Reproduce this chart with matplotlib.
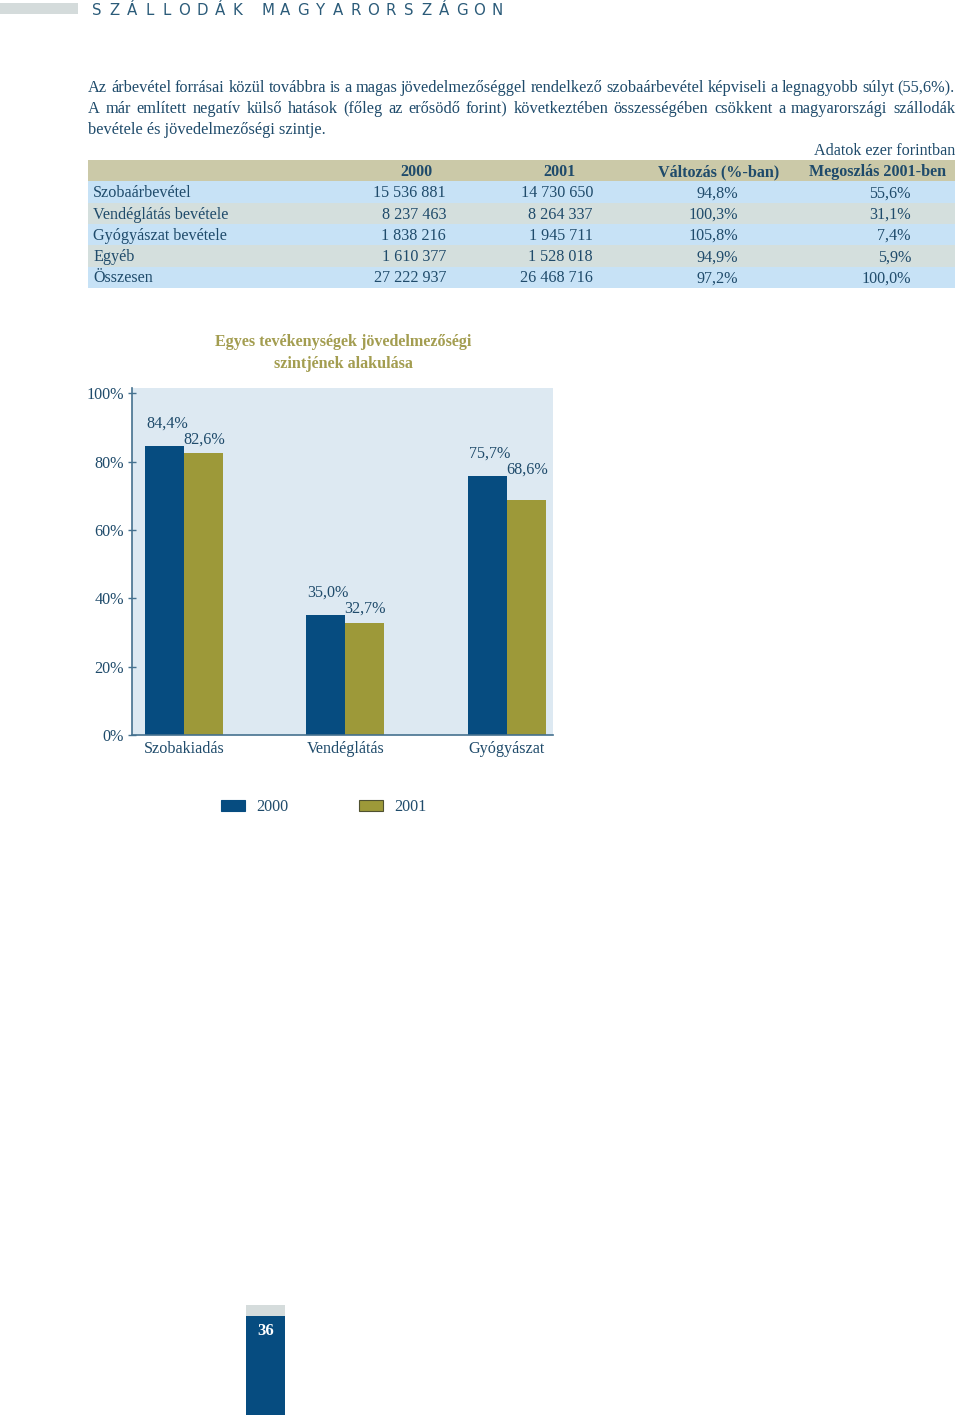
import matplotlib
matplotlib.use("Agg")
import matplotlib.pyplot as plt
from matplotlib.patches import Rectangle
import numpy as np

# ---------------- data ----------------
header_title = "SZÁLLODÁK MAGYARORSZÁGON"
paragraph_lines = [
    "Az árbevétel forrásai közül továbbra is a magas jövedelmezőséggel rendelkező szobaárbevétel képviseli a legnagyobb súlyt (55,6%).",
    "A már említett negatív külső hatások (főleg az erősödő forint) következtében összességében csökkent a magyarországi szállodák",
    "bevétele és jövedelmezőségi szintje.",
]
unit_note = "Adatok ezer forintban"
table_header = ["", "2000", "2001", "Változás (%-ban)", "Megoszlás 2001-ben"]
table_rows = ["Szobaárbevétel", "Vendéglátás bevétele", "Gyógyászat bevétele", "Egyéb", "Összesen"]
col_2000 = ["15 536 881", "8 237 463", "1 838 216", "1 610 377", "27 222 937"]
col_2001 = ["14 730 650", "8 264 337", "1 945 711", "1 528 018", "26 468 716"]
col_change = ["94,8%", "100,3%", "105,8%", "94,9%", "97,2%"]
col_share = ["55,6%", "31,1%", "7,4%", "5,9%", "100,0%"]

chart_title = "Egyes tevékenységek jövedelmezőségi\nszintjének alakulása"
categories = ["Szobakiadás", "Vendéglátás", "Gyógyászat"]
series_names = ["2000", "2001"]
values_2000 = [84.4, 35.0, 75.7]
values_2001 = [82.6, 32.7, 68.6]
y_ticks = [0, 20, 40, 60, 80, 100]
page_number = "36"

# ---------------- style ----------------
TXT = "#1f4b6b"
BLUE = "#064c80"
OLIVE = "#9d9939"
TITLE_OLIVE = "#a39d50"
AXC = "#45718f"
SERIF = ["Liberation Serif", "DejaVu Serif"]
FS = 11.6

W, H = 960, 1415
fig = plt.figure(figsize=(W / 100, H / 100), dpi=100)
fig.patch.set_facecolor("white")
page = fig.add_axes([0, 0, 1, 1])
page.set_xlim(0, W)
page.set_ylim(H, 0)
page.axis("off")
renderer = fig.canvas.get_renderer()

# ---------------- header ----------------
page.add_patch(Rectangle((0, 3), 78, 11, color="#d4dbdb", lw=0))
x = 88
for ch in header_title:
    if ch == " ":
        x += 13
        continue
    page.text(x + 8.5, 15, ch, family="DejaVu Sans", fontsize=10.8, color="#2b5b79",
              ha="center", va="baseline", fontweight="normal")
    x += 17.6

# ---------------- paragraph (justified) ----------------
def place_line(line, y, x0, x1, **kw):
    words = line.split(" ")
    texts = [page.text(0, y, w, **kw) for w in words]
    widths = [t.get_window_extent(renderer).width for t in texts]
    gap = (x1 - x0 - sum(widths)) / (len(words) - 1)
    xx = x0
    for t, w in zip(texts, widths):
        t.set_x(xx)
        xx += w + gap

ptxt = dict(family=SERIF, fontsize=11.75, color=TXT, va="baseline", ha="left")
for i, line in enumerate(paragraph_lines):
    y = 92 + 21 * i
    if i < len(paragraph_lines) - 1:
        place_line(line, y, 88, 955, **ptxt)
    else:
        page.text(88, y, line, **ptxt)

page.text(955, 155, unit_note, family=SERIF, fontsize=FS, color=TXT, ha="right", va="baseline")

# ---------------- table ----------------
tx0, tx1 = 88, 955
row_top = 160
row_h = 21.3
page.add_patch(Rectangle((tx0, row_top), tx1 - tx0, row_h, color="#cbc9a8", lw=0))
row_colors = ["#c7e2f6", "#d4dfdd"]
for i in range(len(table_rows)):
    page.add_patch(Rectangle((tx0, row_top + row_h * (i + 1)), tx1 - tx0, row_h,
                             color=row_colors[i % 2], lw=0))

hdr_centers = [None, 416, 559, 719, 878]
for name, cx in zip(table_header, hdr_centers):
    if cx is None:
        continue
    page.text(cx, row_top + 16, name, family=SERIF, fontsize=FS, fontweight="bold",
              color=TXT, ha="center", va="baseline")

right_edges = [446, 593, 738, 911]
cols = [col_2000, col_2001, col_change, col_share]
for i, label in enumerate(table_rows):
    yb = row_top + row_h * (i + 1) + 16
    page.text(93, yb, label, family=SERIF, fontsize=FS, color=TXT, ha="left", va="baseline")
    for col, xr in zip(cols, right_edges):
        page.text(xr, yb, col[i], family=SERIF, fontsize=FS, color=TXT, ha="right", va="baseline")

# ---------------- chart ----------------
ax_l, ax_r, ax_t, ax_b = 132, 553, 388, 735
ax = fig.add_axes([ax_l / W, 1 - ax_b / H, (ax_r - ax_l) / W, (ax_b - ax_t) / H])
ax.set_facecolor("#dde9f2")
xc = np.arange(len(categories))
bw = 0.2415
ax.bar(xc - bw / 2, values_2000, width=bw, color=BLUE, lw=0, label=series_names[0])
ax.bar(xc + bw / 2, values_2001, width=bw, color=OLIVE, lw=0, label=series_names[1])
ax.set_xlim(-0.322, 2.285)
ax.set_ylim(0, 101.5)

def fmt(v):
    return f"{v:.1f}".replace(".", ",") + "%"

for i in range(len(categories)):
    ax.annotate(fmt(values_2000[i]), xy=(xc[i] - bw, values_2000[i]), xytext=(1.0, 23),
                textcoords="offset pixels", ha="left", va="center",
                family=SERIF, fontsize=FS, color=TXT)
    ax.annotate(fmt(values_2001[i]), xy=(xc[i], values_2000[i]), xytext=(-1, 6.5),
                textcoords="offset pixels", ha="left", va="center",
                family=SERIF, fontsize=FS, color=TXT)

ax.set_yticks(y_ticks)
ax.set_yticklabels([f"{t}%" for t in y_ticks], family=SERIF, fontsize=FS, color=TXT)
ax.set_xticks(xc)
ax.set_xticklabels(categories, family=SERIF, fontsize=FS, color=TXT)
ax.tick_params(axis="y", direction="inout", length=6, width=1, color=AXC, pad=3)
ax.tick_params(axis="x", length=0, pad=4)
for s in ["top", "right"]:
    ax.spines[s].set_visible(False)
for s in ["left", "bottom"]:
    ax.spines[s].set_color(AXC)
    ax.spines[s].set_linewidth(1.2)

page.text(343, 353, chart_title, family=SERIF, fontsize=FS, fontweight="bold",
          color=TITLE_OLIVE, ha="center", va="center", linespacing=1.45)

# legend
leg_x = [221, 359]
leg_colors = [BLUE, OLIVE]
for lx, c, name, ec in zip(leg_x, leg_colors, series_names, [BLUE, "#4f5130"]):
    page.add_patch(Rectangle((lx, 800), 24, 11, facecolor=c, edgecolor=ec, lw=0.8))
    page.text(lx + 35, 811, name, family=SERIF, fontsize=FS, color=TXT, ha="left", va="baseline")

# ---------------- page number ----------------
page.add_patch(Rectangle((246, 1305), 39, 11, color="#d5dcdc", lw=0))
page.add_patch(Rectangle((246, 1316), 39, 99, color=BLUE, lw=0))
page.text(265.5, 1331, page_number, family=SERIF, fontsize=12, fontweight="bold",
          color="white", ha="center", va="center")

fig.savefig("out.png", dpi=100, facecolor="white")
